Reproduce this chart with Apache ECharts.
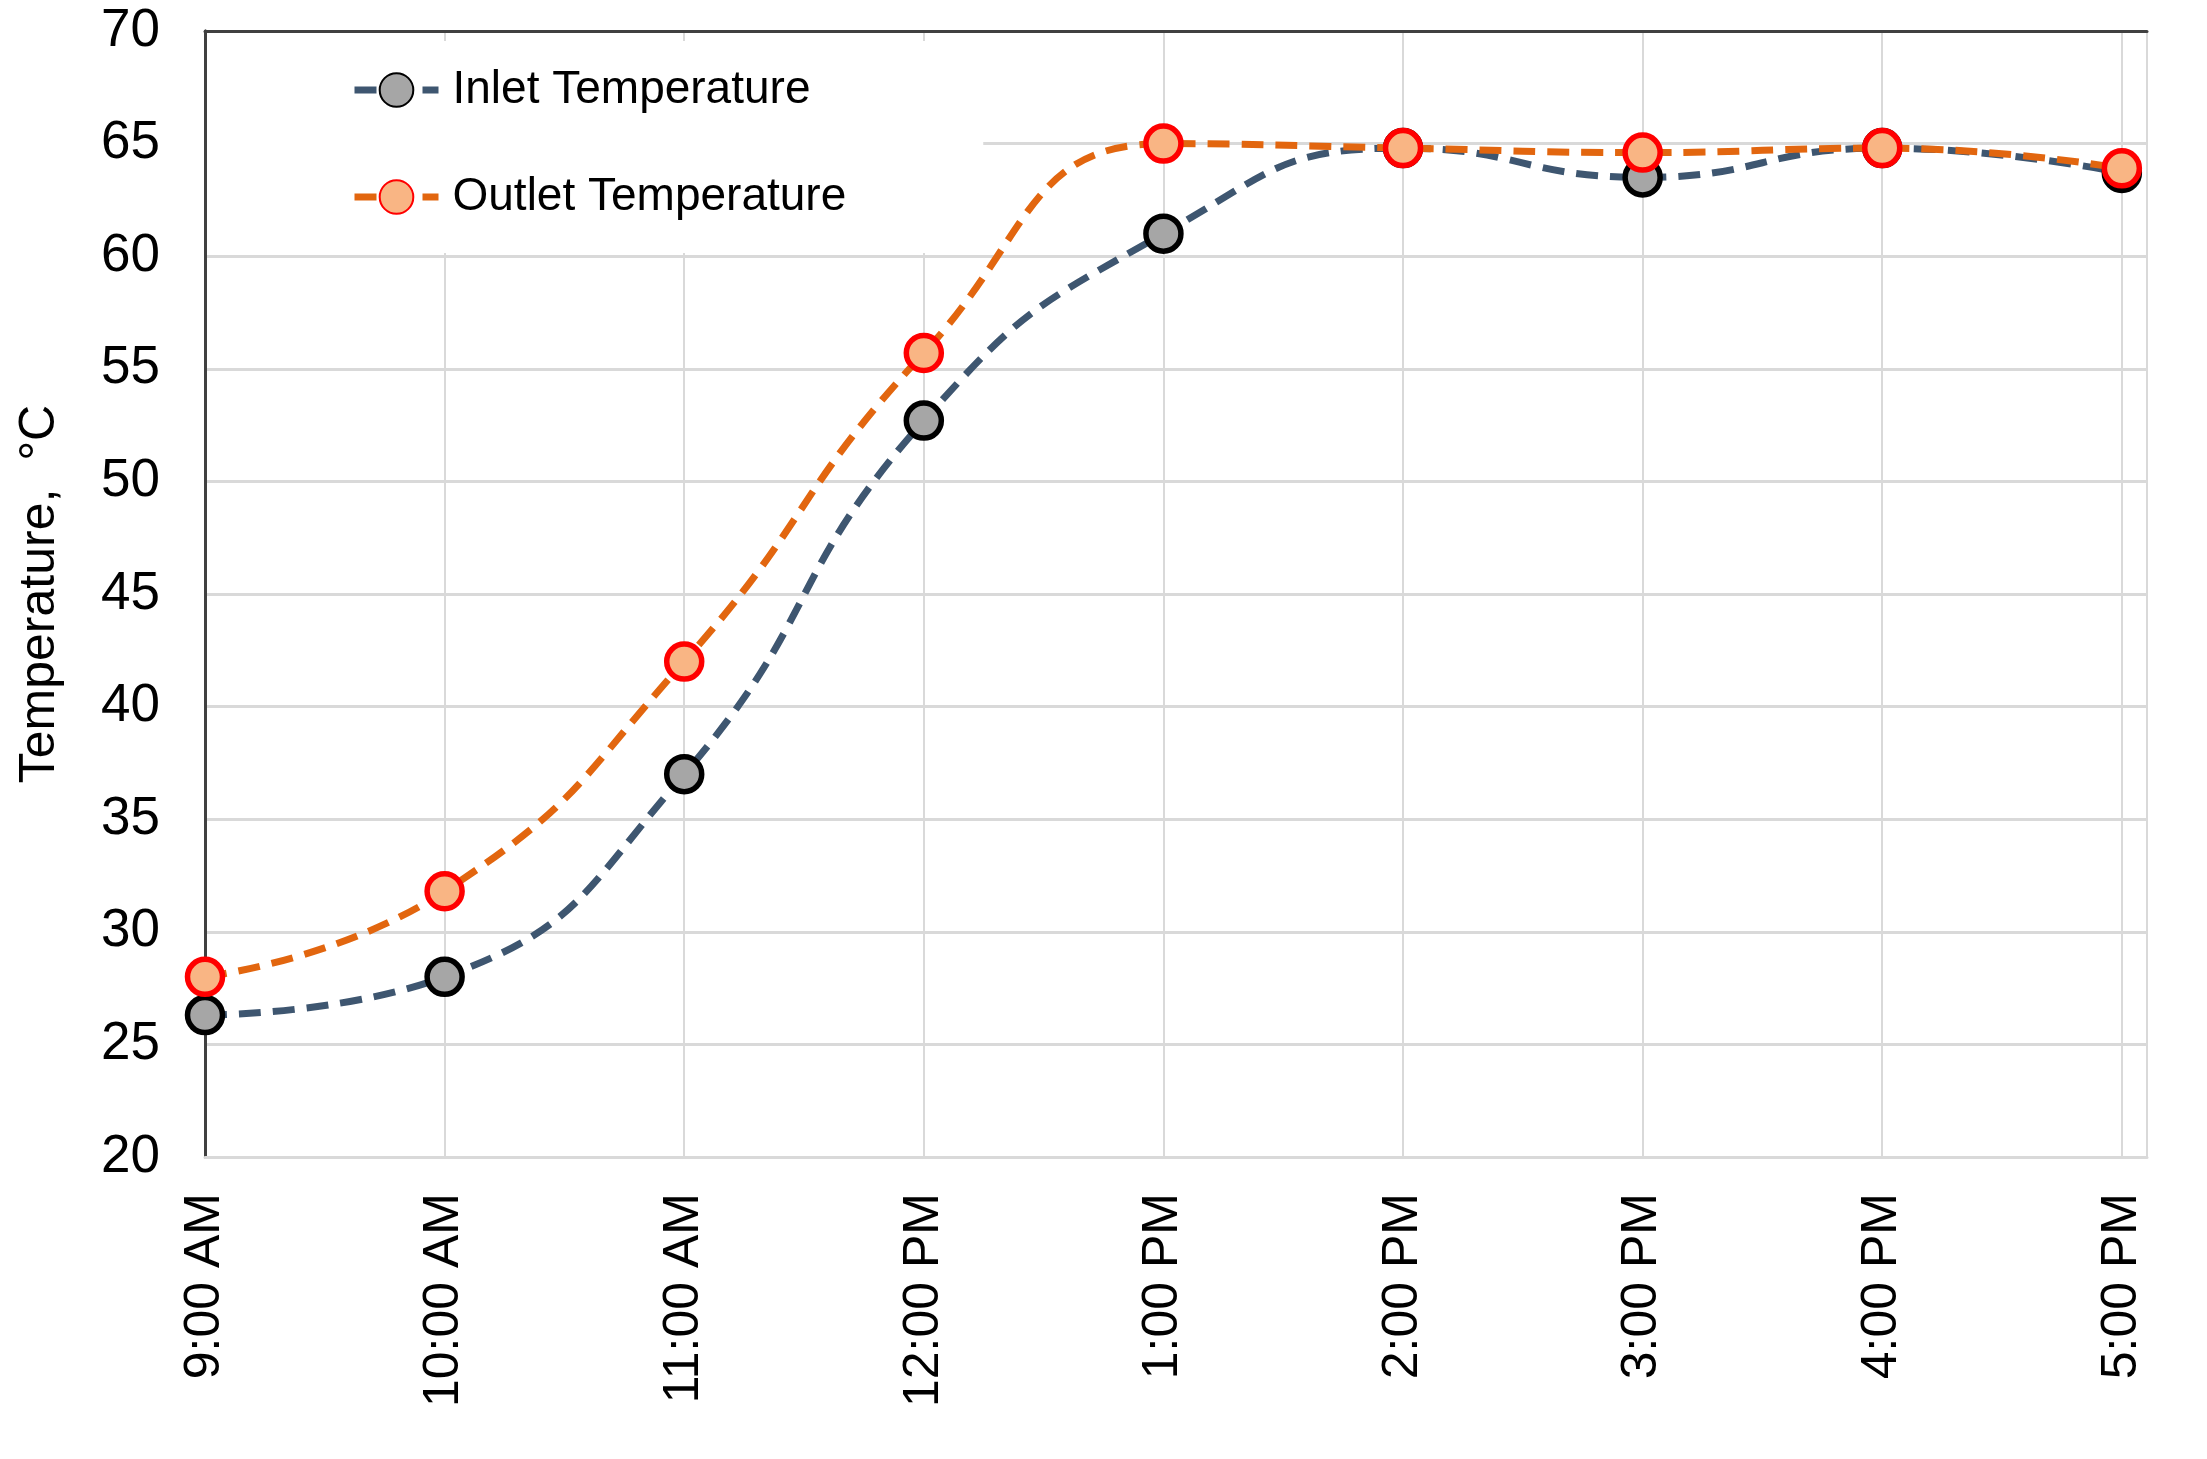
<!DOCTYPE html>
<html>
<head>
<meta charset="utf-8">
<script src="https://cdn.jsdelivr.net/npm/echarts@6/dist/echarts.min.js"></script>
<style>
html,body{margin:0;padding:0;background:#fff;}
#chart{width:2207px;height:1459px;}
</style>
</head>
<body>
<div id="chart"></div>
<script>
// ---- data ----
const categories = ['9:00 AM','10:00 AM','11:00 AM','12:00 PM','1:00 PM','2:00 PM','3:00 PM','4:00 PM','5:00 PM'];
const inletTemp  = [26.3, 28.0, 37.0, 52.7, 61.0, 64.8, 63.5, 64.8, 63.7];
const outletTemp = [28.0, 31.8, 42.0, 55.7, 65.0, 64.8, 64.6, 64.8, 63.9];
const seriesNames = ['Inlet Temperature', 'Outlet Temperature'];
const yTitle = 'Temperature,  °C';

const FONT = "'Liberation Sans', Arial, sans-serif";
const chart = echarts.init(document.getElementById('chart'));

const xMax = categories.length - 1 + 0.105;

chart.setOption({
  backgroundColor: '#ffffff',
  animation: false,
  grid: { left: 205, right: 60, top: 31, bottom: 302, containLabel: false, outerBoundsMode: 'none' },
  legend: {
    orient: 'vertical',
    left: 207, top: 41,
    padding: [26, 137, 33, 144],
    backgroundColor: '#ffffff',
    itemWidth: 84, itemHeight: 42,
    itemGap: 61,
    lineStyle: { width: 7 },
    textStyle: { fontFamily: FONT, fontSize: 46, lineHeight: 46, color: '#000', padding: [0,0,0,9] },
    data: seriesNames
  },
  xAxis: [{
    type: 'value', min: 0, max: xMax, interval: 1,
    axisLine: { show: true, onZero: false, lineStyle: { color: '#D9D9D9', width: 3 } },
    axisTick: { show: false },
    splitLine: { show: true, lineStyle: { color: '#D9D9D9', width: 2 } },
    axisLabel: {
      rotate: 90, margin: 36, fontFamily: FONT, fontSize: 50, color: '#000',
      showMaxLabel: true,
      formatter: v => Number.isInteger(v) && categories[v] !== undefined ? categories[v] : ''
    }
  }, {
    type: 'value', position: 'top', min: 0, max: xMax,
    axisLine: { show: true, lineStyle: { color: '#404040', width: 3 } },
    axisTick: { show: false }, axisLabel: { show: false }, splitLine: { show: false }
  }],
  yAxis: [{
    type: 'value', min: 20, max: 70, interval: 5,
    name: yTitle, nameLocation: 'middle', nameRotate: 90, nameGap: 140,
    nameTextStyle: { fontFamily: FONT, fontSize: 50, color: '#000' },
    axisLine: { show: true, lineStyle: { color: '#404040', width: 3 } },
    axisTick: { show: false },
    splitLine: { show: true, lineStyle: { color: '#D9D9D9', width: 3 } },
    axisLabel: { margin: 45, fontFamily: FONT, fontSize: 53, color: '#000' }
  }, {
    type: 'value', position: 'right', min: 20, max: 70,
    axisLine: { show: true, lineStyle: { color: '#404040', width: 3 } },
    axisTick: { show: false }, axisLabel: { show: false }, splitLine: { show: false }
  }],
  series: [{
    name: seriesNames[0], type: 'line', smooth: 0.5,
    data: inletTemp.map((v, i) => [i, v]),
    symbol: 'circle', symbolSize: 35,
    lineStyle: { color: '#3E5670', width: 7, type: [22, 12] },
    itemStyle: { color: '#A6A6A6', borderColor: '#000000', borderWidth: 5.5 },
    z: 3
  }, {
    name: seriesNames[1], type: 'line', smooth: 0.5,
    data: outletTemp.map((v, i) => [i, v]),
    symbol: 'circle', symbolSize: 35,
    lineStyle: { color: '#E2660F', width: 7, type: [22, 12] },
    itemStyle: { color: '#F9B584', borderColor: '#FF0000', borderWidth: 5.5 },
    z: 4
  }]
});
</script>
</body>
</html>
